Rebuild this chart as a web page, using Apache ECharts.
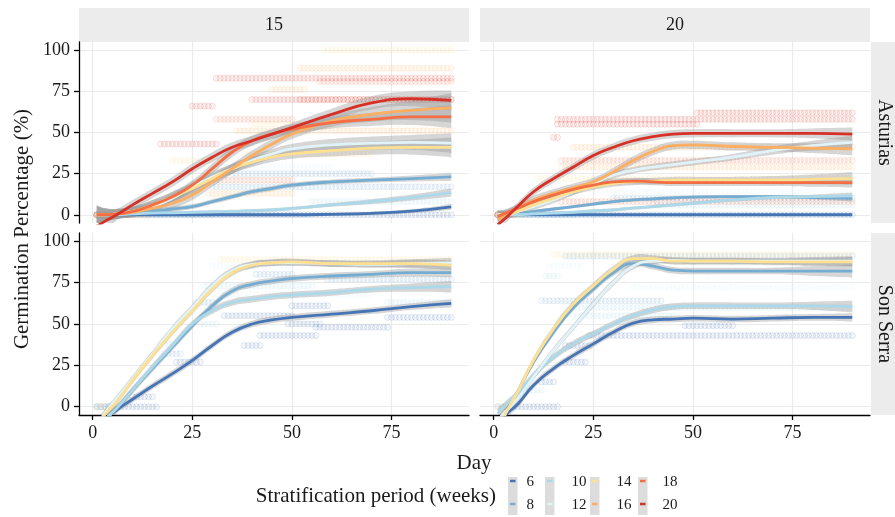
<!DOCTYPE html>
<html>
<head>
<meta charset="utf-8">
<script src="https://cdn.jsdelivr.net/npm/echarts@6/dist/echarts.min.js"></script>
<style>
  html, body { margin: 0; padding: 0; background: #ffffff; }
  #chart { width: 895px; height: 517px; }
</style>
</head>
<body>
<div id="chart"></div>
<script>
// ---- data -------------------------------------------------------------
const fitDays = [1, 3, 6, 10, 15, 20, 25, 30, 35, 40, 45, 50, 60, 70, 80, 90];
const periodLevels = [6, 8, 10, 12, 14, 16, 18, 20];
const periodColors = ['#4575b4', '#74add1', '#abd9e9', '#e0f3f8', '#fee090', '#fdae61', '#f46d43', '#d73027'];
const dayTicks = [0, 25, 50, 75];
const pctTicks = [0, 25, 50, 75, 100];
const tempLabels = ['15', '20'];
const siteLabels = ['Asturias', 'Son Serra'];

// Asturias, 15 degrees: smoothed germination (%) at fitDays, one row per period
const ast15Periods = [6, 8, 10, 12, 14, 16, 18, 20];
const ast15Fit = [
  [0, 0, 0, 0, 0, 0, 0, 0, 0, 0, 0, 0, 0.3, 0.9, 2.2, 4.8],
  [0, 0, 0.3, 1, 2, 3.5, 5, 8, 11, 14, 16, 18, 20, 21, 22, 23],
  [0, 0, 0, 0.5, 1, 1.2, 1.5, 1.8, 2, 2.5, 3, 3.8, 6, 8, 10.5, 13.5],
  [0, 0, 0.5, 2, 5, 10, 17, 23, 28, 33, 37, 40, 42.5, 43.5, 44, 43.5],
  [0, 0, 0.5, 2, 6, 11, 16, 22, 28, 32, 35, 37, 39, 40.5, 41, 41],
  [0, 0, 0.5, 1.5, 4, 7, 12, 20, 28, 36, 43, 49, 57, 61, 63.5, 65],
  [0, 0, 0.5, 2, 6, 11, 18, 28, 38, 45, 49, 52, 56, 58, 59.5, 59.5],
  [-7, -4, 0, 6, 13, 20, 28, 35, 41, 45, 49, 53, 61, 68, 70.5, 69.5]
];
// half-width of the confidence band around each curve
const ast15Se = [
  [1.5, 1, 1, 1, 1, 1, 1, 1, 1, 1, 1, 1, 1, 1, 1.2, 1.8],
  [2, 1.5, 1.5, 1.5, 1.5, 1.5, 1.5, 1.5, 1.5, 1.5, 1.5, 1.5, 1.5, 1.5, 1.8, 2.5],
  [1.5, 1, 1, 1, 1, 1, 1, 1, 1, 1, 1, 1, 1.2, 1.5, 1.8, 2.5],
  [5, 4, 3, 3, 3, 3, 3, 3, 3, 3, 3, 3, 3.5, 4, 4.5, 6],
  [5, 4, 3, 3, 3, 3, 3, 3, 3, 3, 3, 3, 3.5, 4, 4.5, 6],
  [6, 4, 3, 3, 3, 3, 3, 3, 3, 3, 3, 3, 3.5, 4.5, 6, 9],
  [6, 4, 3, 3, 3, 3, 3, 3, 3, 3, 3, 3, 3.5, 4, 5, 7],
  [8, 5, 3.5, 3, 3, 3, 3, 3, 3, 3, 3, 3, 3.5, 4, 4.5, 6]
];
// observed replicates: [period, germination %, first day, last day]
const ast15Obs = [
  [14, 100, 58, 90], [16, 89, 52, 90], [20, 83, 31, 90], [18, 81, 57, 90], [16, 76, 45, 53],
  [20, 70, 40, 90], [18, 70, 52, 90], [20, 66, 25, 30], [18, 58, 31, 50], [16, 51, 36, 90],
  [14, 55, 40, 60], [20, 43, 17, 31], [12, 41, 58, 90], [14, 37, 38, 70], [14, 33, 20, 33],
  [12, 29, 30, 60], [18, 21, 27, 50], [16, 13, 29, 50], [8, 25, 35, 70], [8, 17, 30, 90],
  [10, 8, 55, 90], [6, 0, 1, 90], [8, 0, 1, 30], [10, 0, 1, 55], [12, 0, 1, 15],
  [14, 0, 1, 12], [16, 0, 1, 14], [18, 0, 1, 10], [20, 0, 1, 3]
];

// Asturias, 20 degrees
const ast20Periods = [6, 8, 10, 12, 14, 16, 18, 20];
const ast20Fit = [
  [0, 0, 0, 0, 0, 0, 0, 0, 0, 0, 0, 0, 0, 0, 0, 0],
  [0, 0, 0.5, 2, 3.5, 5, 6.5, 8, 9, 9.7, 10.3, 10.7, 11, 11, 10.5, 10],
  [0, 0, 0, 0.5, 1, 1.5, 2.3, 3, 4, 5, 6, 7, 9, 10.5, 11, 11.5],
  [0, 0, 2, 5, 9, 14, 19, 24, 27, 29, 30.5, 32, 35, 39, 42, 44],
  [0, 0, 2, 6, 10, 14, 17, 19, 20, 20.5, 21, 21, 21, 21, 21.5, 22],
  [-3, 0, 4, 9, 13, 16.5, 20, 26, 33, 38.5, 42, 42.5, 41.5, 41, 40.5, 40],
  [-1, 1, 4, 8, 12, 15.5, 18, 20, 20.5, 20, 19.5, 19.5, 19.5, 19.5, 19.5, 19.5],
  [-6, -2, 5, 14, 22, 29, 36, 41, 45, 47.5, 49, 49.5, 49.5, 49.5, 49.5, 49]
];
const ast20Se = [
  [0.8, 0.8, 0.8, 0.8, 0.8, 0.8, 0.8, 0.8, 0.8, 0.8, 0.8, 0.8, 0.8, 0.8, 0.8, 0.8],
  [1.5, 1, 1, 1, 1, 1, 1, 1, 1, 1, 1, 1, 1, 1, 1.2, 2],
  [1.5, 1, 1, 1, 1, 1, 1, 1, 1, 1, 1, 1, 1, 1, 1.2, 2],
  [3, 2.5, 2, 2, 2, 2, 2, 2, 2, 2, 2, 2, 2, 2.5, 3, 4],
  [3, 2.5, 2, 2, 2, 2, 2, 2, 2, 2, 2, 2, 2, 2.5, 3, 4],
  [4, 3, 2.5, 2.5, 2.5, 2.5, 2.5, 2.5, 2.5, 2.5, 2.5, 2.5, 2.5, 2.5, 3, 4],
  [3, 2.5, 2, 2, 2, 2, 2, 2, 2, 2, 2, 2, 2, 2, 2.5, 3],
  [4, 3, 2.5, 2.5, 2.5, 2.5, 2.5, 2.5, 2.5, 2.5, 2.5, 2.5, 2.5, 2.5, 3, 4]
];
const ast20Obs = [
  [20, 62, 51, 90], [20, 58, 16, 90], [20, 55, 16, 51], [20, 47, 15, 16], [16, 41, 20, 90],
  [18, 33, 17, 90], [16, 29, 17, 90], [14, 22, 11, 90], [12, 14, 25, 90], [18, 8, 17, 90],
  [8, 10, 30, 90], [10, 6, 40, 90], [6, 0, 1, 90], [8, 0, 1, 20], [10, 0, 1, 30],
  [12, 0, 1, 10], [14, 0, 1, 8], [16, 0, 1, 5], [18, 0, 1, 5], [20, 0, 1, 3]
];

// Son Serra, 15 degrees
const son15Periods = [6, 8, 10, 12, 14];
const son15Fit = [
  [-14, -8, -2, 4.5, 12.5, 20, 28, 37, 45, 50, 52.5, 54, 56, 58, 60.5, 62.5],
  [-14, -8, -1, 10, 23, 36, 49, 61, 70, 74, 76, 77.5, 79, 80, 81, 81],
  [-14, -8, -1, 10, 24, 37, 50, 58, 63, 65, 66.5, 67.5, 69, 71, 72, 72.5],
  [-12, -4, 5, 17, 32, 47, 60, 73, 82, 86, 87, 87, 86.5, 86, 86.5, 87],
  [-14, -5, 3, 16, 31, 45, 58, 71, 81, 85.5, 87, 87.5, 86.5, 86.5, 86.5, 85.5]
];
const son15Se = [
  [3, 2.5, 2, 2, 2, 2, 2, 2, 2, 2, 2, 2, 2, 2, 2, 2.5],
  [3, 2.5, 2, 2, 2, 2, 2, 2, 2, 2, 2, 2, 2, 2, 2.5, 3],
  [3, 2.5, 2, 2, 2, 2, 2, 2, 2, 2, 2, 2, 2, 2, 2.5, 3.5],
  [3, 2.5, 2, 2, 2, 2, 2, 2, 2, 2, 2, 2, 2, 2, 2.5, 3],
  [3, 2.5, 2, 2, 2, 2, 2, 2, 2, 2, 2, 2, 2, 2, 2.5, 3]
];
const son15Obs = [
  [14, 89, 32, 90], [12, 85, 30, 50], [8, 80, 41, 50], [8, 77, 59, 90], [10, 73, 28, 55],
  [12, 68, 31, 70], [8, 63, 26, 30], [10, 63, 74, 90], [6, 61, 50, 59], [6, 55, 33, 50],
  [6, 54, 74, 90], [10, 50, 27, 31], [6, 50, 49, 57], [6, 48, 56, 74], [6, 43, 42, 56],
  [6, 37, 38, 42], [6, 27, 21, 27], [8, 32, 18, 22], [10, 38, 17, 20], [6, 6, 10, 15],
  [6, 0, 1, 16], [8, 0, 1, 5], [10, 0, 1, 5], [12, 0, 1, 3], [14, 0, 1, 3]
];

// Son Serra, 20 degrees
const son20Periods = [6, 8, 10, 12, 14];
const son20Fit = [
  [-12, -5, 1.5, 13, 23, 31, 38, 45, 50.5, 52.5, 53, 53.5, 53, 53.5, 54, 54],
  [-12, -4, 9, 27, 45, 60, 71, 81, 86.5, 85, 82.5, 82, 82, 82, 82, 82],
  [-4, 1, 8, 19, 30, 38, 44, 50, 55, 58.5, 60.5, 61, 61, 61, 61, 60.5],
  [-8, -3, 5, 18, 34, 48, 62, 75, 85, 88, 88.5, 88, 88, 88, 88, 88],
  [-14, -4, 9, 28, 47, 62, 73, 83, 89.5, 89.5, 88, 88, 88, 87.5, 87.5, 87.5]
];
const son20Se = [
  [3, 2.5, 2, 2, 2, 2, 2, 2, 2, 2, 2, 2, 2, 2, 2, 2.5],
  [3, 2.5, 2, 2, 2, 2, 2, 2, 2, 2, 2, 2, 2, 2, 3, 4],
  [3, 2.5, 2, 2, 2, 2, 2, 2, 2, 2, 2, 2, 2, 2, 2.5, 3.5],
  [3, 2.5, 2, 2, 2, 2, 2, 2, 2, 2, 2, 2, 2, 2, 2.5, 3],
  [3, 2.5, 2, 2, 2, 2, 2, 2, 2, 2, 2, 2, 2, 2, 2.5, 3]
];
const son20Obs = [
  [14, 92, 15, 90], [8, 91, 18, 90], [12, 85, 14, 22], [10, 79, 13, 16], [12, 72, 35, 90],
  [8, 64, 12, 42], [10, 60, 20, 90], [10, 55, 20, 45], [6, 49, 48, 60], [6, 43, 24, 90],
  [6, 37, 18, 24], [6, 27, 18, 23], [6, 15, 12, 15], [10, 10, 9, 12], [6, 0, 3, 16],
  [8, 0, 1, 4], [10, 0, 1, 4], [12, 0, 1, 3], [14, 0, 1, 3]
];

// ---- layout -----------------------------------------------------------
const FONT = "'Liberation Serif', 'DejaVu Serif', serif";
const TEXT = '#1a1a1a';
const STRIP = '#ececec';
const GRIDLINE = '#ebebeb';
const BAND = 'rgba(153,153,153,0.4)';
const SMOOTH = 0.5;

const panelRects = [
  { left: 79, top: 42, width: 390, height: 181 },   // Asturias 15
  { left: 480, top: 42, width: 390, height: 181 },  // Asturias 20
  { left: 79, top: 233, width: 390, height: 182 },  // Son Serra 15
  { left: 480, top: 233, width: 390, height: 182 }  // Son Serra 20
];
const panels = [
  { periods: ast15Periods, fit: ast15Fit, se: ast15Se, obs: ast15Obs, row: 0, col: 0 },
  { periods: ast20Periods, fit: ast20Fit, se: ast20Se, obs: ast20Obs, row: 0, col: 1 },
  { periods: son15Periods, fit: son15Fit, se: son15Se, obs: son15Obs, row: 1, col: 0 },
  { periods: son20Periods, fit: son20Fit, se: son20Se, obs: son20Obs, row: 1, col: 1 }
];

function rgba(hex, a) {
  const n = parseInt(hex.slice(1), 16);
  return 'rgba(' + ((n >> 16) & 255) + ',' + ((n >> 8) & 255) + ',' + (n & 255) + ',' + a + ')';
}
function colorOf(period) { return periodColors[periodLevels.indexOf(period)]; }

// Bezier segments through pixel points, using the same control-point rule as a smoothed line series
function smoothSegments(pts) {
  let d = '';
  const n = pts.length;
  const cps = pts.map((p, i) => {
    if (i === 0 || i === n - 1) return { prev: p, next: p };
    const a = pts[i - 1], b = pts[i + 1];
    const vx = (b[0] - a[0]) * SMOOTH, vy = (b[1] - a[1]) * SMOOTH;
    const l0 = Math.hypot(p[0] - a[0], p[1] - a[1]);
    const l1 = Math.hypot(b[0] - p[0], b[1] - p[1]);
    const r = l1 / (l0 + l1 || 1);
    return { prev: [p[0] - vx * (1 - r), p[1] - vy * (1 - r)], next: [p[0] + vx * r, p[1] + vy * r] };
  });
  for (let i = 1; i < n; i++) {
    const c1 = cps[i - 1].next, c2 = cps[i].prev, p = pts[i];
    d += ' C' + c1[0] + ',' + c1[1] + ' ' + c2[0] + ',' + c2[1] + ' ' + p[0] + ',' + p[1];
  }
  return d;
}
function bandPath(upper, lower) {
  const lowRev = lower.slice().reverse();
  return 'M' + upper[0][0] + ',' + upper[0][1] + smoothSegments(upper) +
         ' L' + lowRev[0][0] + ',' + lowRev[0][1] + smoothSegments(lowRev) + ' Z';
}

const grids = [], xAxes = [], yAxes = [], series = [];

panels.forEach((p, gi) => {
  const r = panelRects[gi];
  grids.push({ left: r.left, top: r.top, width: r.width, height: r.height, containLabel: false });
  const bottomRow = p.row === 1, leftCol = p.col === 0;
  xAxes.push({
    gridIndex: gi, type: 'value', min: -3.45, max: 94.45,
    axisLine: { show: bottomRow, onZero: false, lineStyle: { color: '#000', width: 1.3 } },
    axisTick: { show: bottomRow, customValues: dayTicks, length: 5, lineStyle: { color: '#000', width: 1.3 } },
    axisLabel: { show: bottomRow, customValues: dayTicks, fontFamily: FONT, fontSize: 18, color: TEXT, margin: 9 },
    splitLine: { show: true, lineStyle: { color: GRIDLINE, width: 1.2 } }
  });
  yAxes.push({
    gridIndex: gi, type: 'value', min: -5, max: 105,
    axisLine: { show: leftCol, onZero: false, lineStyle: { color: '#000', width: 1.3 } },
    axisTick: { show: leftCol, customValues: pctTicks, length: 5, lineStyle: { color: '#000', width: 1.3 } },
    axisLabel: { show: leftCol, customValues: pctTicks, fontFamily: FONT, fontSize: 18, color: TEXT, margin: 9 },
    splitLine: { show: true, lineStyle: { color: GRIDLINE, width: 1.2 } }
  });

  // observed replicate points, drawn faintly underneath
  p.periods.forEach(per => {
    const pts = [];
    p.obs.filter(o => o[0] === per).forEach(o => {
      for (let d = o[2]; d <= o[3]; d++) pts.push([d, o[1]]);
    });
    const c = colorOf(per);
    series.push({
      type: 'scatter', xAxisIndex: gi, yAxisIndex: gi, data: pts, symbol: 'circle', symbolSize: 6,
      itemStyle: { color: rgba(c, 0.07), borderColor: rgba(c, 0.24), borderWidth: 0.8 },
      silent: true, animation: false, z: 1
    });
  });

  // smoothed curve with its confidence band, in period order
  p.periods.forEach((per, k) => {
    const fit = p.fit[k], se = p.se[k];
    series.push({
      type: 'custom', xAxisIndex: gi, yAxisIndex: gi, silent: true, animation: false, z: 2, clip: true,
      data: [[fitDays[0], fit[0]]],
      renderItem: (params, api) => {
        const upper = fitDays.map((d, i) => api.coord([d, fit[i] + se[i]]));
        const lower = fitDays.map((d, i) => api.coord([d, fit[i] - se[i]]));
        return { type: 'path', shape: { pathData: bandPath(upper, lower) }, style: { fill: BAND, stroke: null } };
      }
    });
    series.push({
      type: 'line', xAxisIndex: gi, yAxisIndex: gi, symbol: 'none', smooth: SMOOTH,
      silent: true, animation: false, z: 2,
      data: fitDays.map((d, i) => [d, fit[i]]),
      lineStyle: { color: colorOf(per), width: 2.8 }
    });
  });
});

// ---- strips, titles and legend ----------------------------------------
const graphics = [];
tempLabels.forEach((t, c) => {
  const r = panelRects[c];
  graphics.push({ type: 'rect', shape: { x: r.left, y: 8, width: r.width, height: 34 }, style: { fill: STRIP }, silent: true });
  graphics.push({ type: 'text', x: r.left + r.width / 2, y: 25,
    style: { text: t, font: '18px ' + FONT, fill: TEXT, textAlign: 'center', textVerticalAlign: 'middle' } });
});
siteLabels.forEach((s, rIdx) => {
  const r = panelRects[rIdx * 2 + 1];
  graphics.push({ type: 'rect', shape: { x: 871, y: r.top, width: 30, height: r.height }, style: { fill: STRIP }, silent: true });
  graphics.push({ type: 'text', x: 884, y: r.top + r.height / 2, rotation: -Math.PI / 2,
    style: { text: s, font: '20px ' + FONT, fill: TEXT, textAlign: 'center', textVerticalAlign: 'middle' } });
});
graphics.push({ type: 'text', x: 22, y: 229, rotation: Math.PI / 2,
  style: { text: 'Germination Percentage (%)', font: '21px ' + FONT, fill: TEXT, textAlign: 'center', textVerticalAlign: 'middle' } });
graphics.push({ type: 'text', x: 474, y: 463,
  style: { text: 'Day', font: '21px ' + FONT, fill: TEXT, textAlign: 'center', textVerticalAlign: 'middle' } });
graphics.push({ type: 'text', x: 496, y: 496,
  style: { text: 'Stratification period (weeks)', font: '21px ' + FONT, fill: TEXT, textAlign: 'right', textVerticalAlign: 'middle' } });

// legend: two periods per column, keys read down then across
const legendKeyX = [508, 545, 590, 638];
const legendLabelX = [526.5, 571.5, 616.5, 662.5];
const legendRowY = [481, 504];
for (let c = 0; c < 4; c++) {
  const kx = legendKeyX[c];
  graphics.push({ type: 'rect', shape: { x: kx, y: 477, width: 9.5, height: 38 }, style: { fill: '#dcdcdc' }, silent: true });
  for (let rr = 0; rr < 2; rr++) {
    const idx = c * 2 + rr;
    graphics.push({ type: 'line', shape: { x1: kx + 2, y1: legendRowY[rr], x2: kx + 7.5, y2: legendRowY[rr] },
      style: { stroke: periodColors[idx], lineWidth: 2.5 }, silent: true });
    graphics.push({ type: 'text', x: legendLabelX[c], y: legendRowY[rr] + 1.5,
      style: { text: String(periodLevels[idx]), font: '15px ' + FONT, fill: TEXT, textAlign: 'left', textVerticalAlign: 'middle' } });
  }
}

const chart = echarts.init(document.getElementById('chart'), null, { renderer: 'canvas' });
chart.setOption({
  backgroundColor: '#ffffff',
  animation: false,
  grid: grids,
  xAxis: xAxes,
  yAxis: yAxes,
  series: series,
  graphic: graphics
});
</script>
</body>
</html>
